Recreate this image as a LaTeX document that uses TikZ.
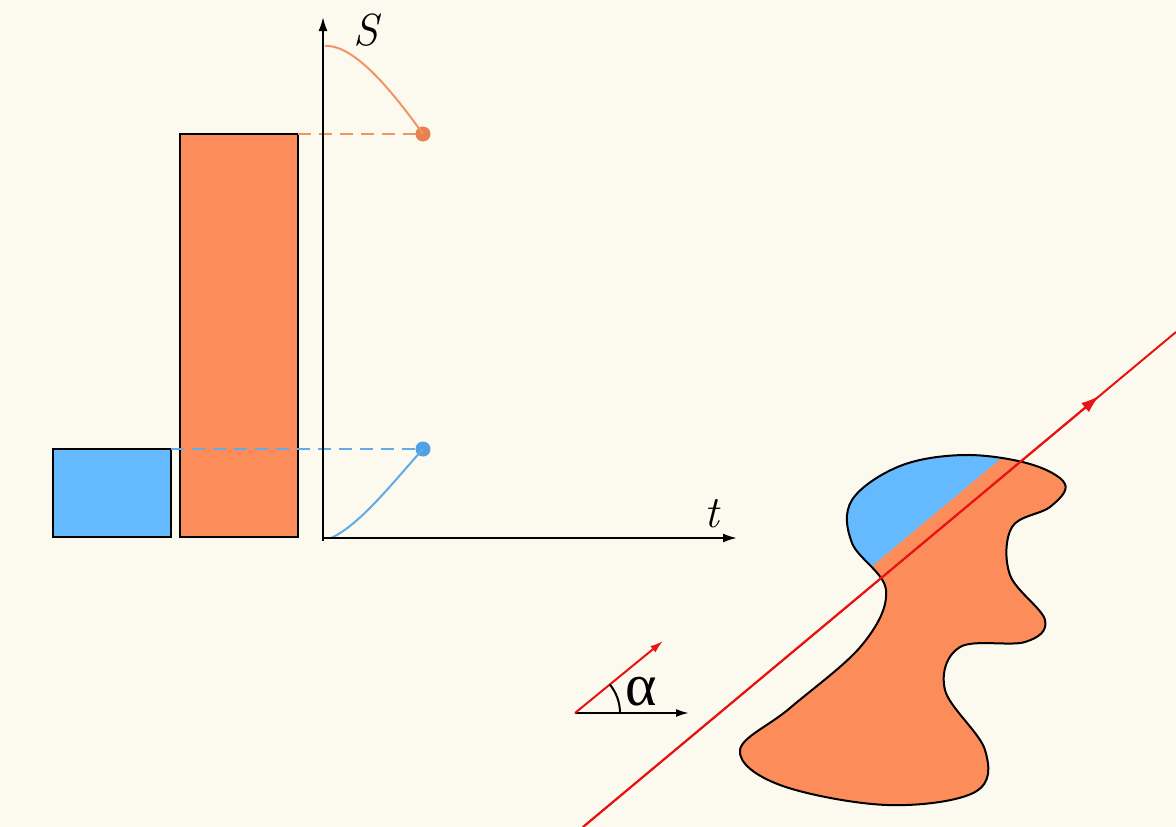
\documentclass[tikz,border=0pt]{standalone}
\usepackage{fontspec}
\newfontfamily\alphafont{Liberation Serif}
\usetikzlibrary{arrows.meta}
\definecolor{bgcol}{RGB}{252,249,238}
\definecolor{orfill}{RGB}{252,140,90}
\definecolor{blfill}{RGB}{100,185,255}
\definecolor{orline}{RGB}{240,150,100}
\definecolor{blline}{RGB}{100,170,230}
\definecolor{ordot}{RGB}{232,128,80}
\definecolor{bldot}{RGB}{80,160,230}
\definecolor{redline}{RGB}{232,20,20}
\tikzset{
  bar/.style={draw=black, line width=2pt},
  axis/.style={draw=black, line width=2pt, -{Latex[length=14pt,width=9pt]}},
  guide/.style={line width=2pt, dash pattern=on 13pt off 8pt},
  curveline/.style={line width=2pt},
  dotnode/.style={circle, inner sep=0pt, minimum size=15pt},
  lbl/.style={font=\fontsize{45}{48}\selectfont\itshape, inner sep=0pt},
  ray/.style={draw=redline, line width=2pt},
}
\begin{document}
\begin{tikzpicture}[x=1pt,y=-1pt]
\fill[bgcol] (0,0) rectangle (1176,827);
\useasboundingbox (0,0) rectangle (1176,827);

% bars
\filldraw[bar, fill=blfill] (53,449) rectangle (171,537);
\filldraw[bar, fill=orfill] (180,134) rectangle (298,537);

% dots
\node[dotnode, fill=ordot] (od) at (423,134) {};
\node[dotnode, fill=bldot] (bd) at (423,449) {};
\coordinate (oedge) at (298,134);
\coordinate (bedge) at (171,449);

% dashed guides
\draw[guide, orline] (oedge) -- (od.center);
\draw[guide, blline] (bedge) -- (bd.center);

% curves
\coordinate (ostart) at (325,46);
\coordinate (bstart) at (331,538);
\draw[curveline, orline] (ostart) .. controls (355,44) and (395,95) .. (od.center);
\draw[curveline, blline] (bstart) .. controls (360,525) and (395,480) .. (bd.center);

% axes
\coordinate (ytip) at (323,17);
\coordinate (xtip) at (737,538);
\draw[axis] (323,541) -- (ytip);
\draw[axis] (322,538) -- (xtip);
\node[lbl] (S) at (366,30) {S};
\node[lbl] (t) at (712,514) {t};

% angle indicator
\coordinate (ao) at (575,713);
\coordinate (ared) at (663,641);
\coordinate (ablack) at (689,713);
\draw[black, line width=2pt, -{Latex[length=13pt,width=8pt]}] (ao) -- (ablack);
\draw[redline, line width=2pt, -{Latex[length=13pt,width=8pt]}] (ao) -- (ared);
\draw[black, line width=2pt] ([shift={(0:45)}]ao) arc[start angle=0, end angle=-39.5, radius=45];
\node[inner sep=0pt, font=\alphafont\fontsize{60}{62}\selectfont] (alpha) at (641,692) {α};

% blob
\def\blob{plot[smooth cycle, tension=0.6] coordinates {
 (965,455) (1030,464) (1065,484) (1050,507) (1012,527)
 (1010,575) (1045,620) (1025,642) (960,647)
 (945,690) (985,750) (975,792) (887,805)
 (780,785) (740,750) (790,708) (862,645)
 (886,590) (852,543) (852,500) (900,466)}}
\fill[orfill] \blob;
\begin{scope}
  \clip (560,827) -- (1176,312) -- (1176,0) -- (560,0) -- cycle;
  \fill[blfill] \blob;
\end{scope}
\draw[black, line width=2pt] \blob;

% red ray
\coordinate (rs) at (583,827);
\coordinate (rm) at (1099,396);
\coordinate (re) at (1176,332);
\draw[ray] (rs) -- (re);
\draw[ray, -{Latex[length=18pt,width=12pt]}] (rs) -- (rm);
\end{tikzpicture}
\end{document}
